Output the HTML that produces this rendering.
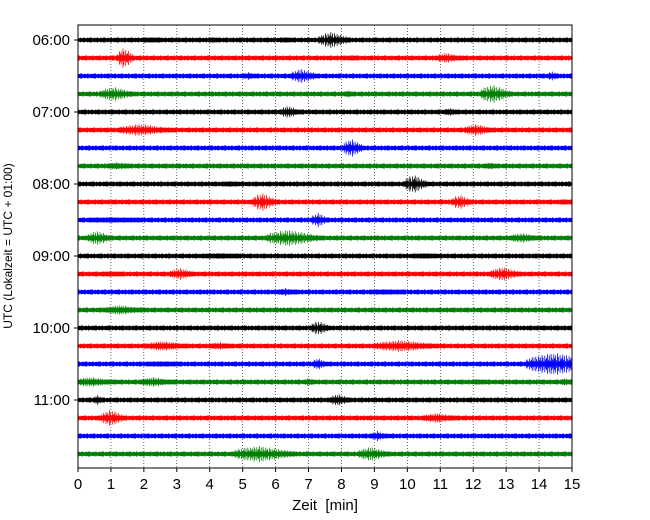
<!DOCTYPE html>
<html><head><meta charset="utf-8"><style>
html,body{margin:0;padding:0;background:#fff;}
svg{display:block;font-family:"Liberation Sans",sans-serif;}
</style></head><body>
<svg id="chart" width="650" height="520" viewBox="0 0 650 520" xmlns="http://www.w3.org/2000/svg">
<g id="grid"></g>
<g id="traces"></g>
<rect x="78" y="25" width="494" height="443" fill="none" stroke="#000" stroke-width="1"/>
<g id="xaxis"></g>
<g id="yaxis"></g>
<text x="325" y="510" font-size="15" text-anchor="middle" style="white-space:pre">Zeit  [min]</text>
<text transform="translate(12,246) rotate(-90)" font-size="12" text-anchor="middle">UTC (Lokalzeit = UTC + 01:00)</text>
</svg>
<script>
const xTicks=[0,1,2,3,4,5,6,7,8,9,10,11,12,13,14,15];
const yTickLabels=["06:00","07:00","08:00","09:00","10:00","11:00"];
const traceColors=["#000000","#ff0000","#0000ff","#008000"];
const traceCount=24;
// events: traceIndex, peak time (min), amplitude (px), duration (min)
const eventTrace=[0,0,0,0,1,1,1,2,2,2,3,3,3,4,4,5,5,6,7,7,8,8,9,9,9,10,10,11,11,11,12,12,13,13,13,14,14,15,16,17,17,17,18,18,18,19,19,19,19,19,20,20,21,21,22,23,23];
const eventTime=[2.2,4.1,6.3,7.7,1.4,8.3,11.2,5.2,6.8,14.4,1.1,8.2,12.6,6.4,11.3,1.9,12.1,8.3,1.2,12.5,4.6,10.2,5.6,11.6,14.8,1.0,7.3,0.6,6.4,13.5,4.3,10.5,1.0,3.1,12.9,6.3,9.3,1.3,7.3,2.6,4.3,9.8,2.5,7.3,14.5,0.4,2.3,7.0,12.2,14.8,0.6,7.9,1.0,10.9,9.1,5.5,8.9];
const eventAmp=[3,3,3,8,10,3,5,4,7,5,7,4,9,6,4,6,6,9,4,4,3,9,9,7,3,3,7,7,8,5,3,3,3,6,7,4,3,5,7,5,4,6,3,6,11,5,5,4,3,4,5,6,8,5,5,8,7];
const eventDur=[0.5,0.3,0.3,0.9,0.5,0.3,0.8,0.3,0.8,0.3,1.0,0.3,0.9,0.6,0.4,1.5,0.8,0.6,0.7,0.4,0.4,0.7,0.7,0.6,0.4,1.5,0.5,0.7,1.6,0.9,1.0,0.6,0.6,0.7,0.9,0.6,1.0,1.2,0.6,1.2,0.6,1.8,0.9,0.4,2.0,1.2,1.0,0.3,0.3,0.3,0.3,0.6,0.7,1.0,0.5,1.8,0.9];

const NS="http://www.w3.org/2000/svg";
const X0=78,X1=572,Y0=40,DY=18;
const xScale=t=>X0+(t-0)/(15-0)*(X1-X0);
const yTrace=i=>Y0+i*DY;
const wiggle=[1,0.3,0.8,0.15,0.95,0.5,0.25,0.9,0.4,0.7,0.2,1,0.6,0.1,0.85,0.35,0.55];
function mk(tag,attrs,parent){const e=document.createElementNS(NS,tag);for(const k in attrs)e.setAttribute(k,attrs[k]);parent.appendChild(e);return e;}

const grid=document.getElementById('grid');
xTicks.forEach(t=>{if(t>0&&t<15){const l=mk('line',{x1:xScale(t),x2:xScale(t),y1:25,y2:468,stroke:'#000','stroke-width':0.6,'stroke-dasharray':'1,2'},grid);

}});

const tr=document.getElementById('traces');
for(let i=0;i<traceCount;i++){
  const c=traceColors[i%4];
  const y=yTrace(i);
  let d='';let n=0;
  for(let x=X0;x<=X1;x+=0.8,n++){const a=1.6+0.9*wiggle[(n*3+i)%wiggle.length];d+=`M${x.toFixed(1)} ${(y-a).toFixed(1)}V${(y+a).toFixed(1)}`;}
  const l=mk('path',{d:d,stroke:c,'stroke-width':0.9,fill:'none'},tr);
  
  
}
for(let k=0;k<eventTime.length;k++){
  const i=eventTrace[k],c=traceColors[i%4],y=yTrace(i);
  const t0=eventTime[k]-0.45*eventDur[k],t1=eventTime[k]+0.65*eventDur[k];
  const xs=Math.max(X0,xScale(t0)),xe=Math.min(X1,xScale(t1)),xp=xScale(eventTime[k]);
  let d='';let n=0;
  for(let x=xs;x<=xe;x+=0.9,n++){
    let env;
    if(x<xp) env=0.3+0.7*Math.sqrt((x-xScale(t0))/Math.max(1,xp-xScale(t0)));
    else env=1-0.75*(x-xp)/Math.max(1,xScale(t1)-xp);
    const a=Math.max(2.2,eventAmp[k]*env*(0.2+0.8*wiggle[(n+k)%wiggle.length]));
    d+=`M${x.toFixed(1)} ${(y-a).toFixed(1)}V${(y+a).toFixed(1)}`;
  }
  const p=mk('path',{d:d,stroke:c,'stroke-width':0.8,fill:'none'},tr);
  
  
}

const xa=document.getElementById('xaxis');
xTicks.forEach(t=>{
  mk('line',{x1:xScale(t),x2:xScale(t),y1:468,y2:472,stroke:'#000'},xa);
  const tx=mk('text',{x:xScale(t),y:489,'font-size':15,'text-anchor':'middle'},xa);
  tx.textContent=t;
  
  
});
const ya=document.getElementById('yaxis');
yTickLabels.forEach((s,j)=>{
  const y=yTrace(j*4);
  mk('line',{x1:74,x2:78,y1:y,y2:y,stroke:'#000'},ya);
  const tx=mk('text',{x:70,y:y+5,'font-size':15,'text-anchor':'end'},ya);
  tx.textContent=s;
  
  
});
</script>
</body></html>
